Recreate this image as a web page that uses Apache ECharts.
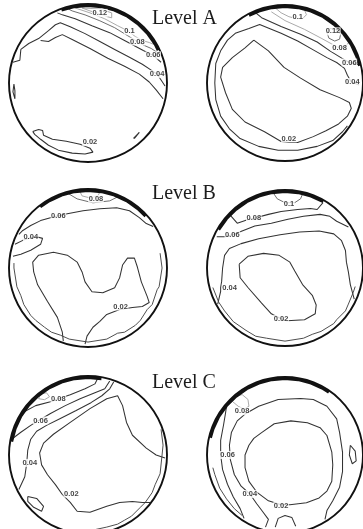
<!DOCTYPE html>
<html>
<head>
<meta charset="utf-8">
<script src="https://cdn.jsdelivr.net/npm/echarts@6/dist/echarts.min.js"></script>
<style>
  html, body { margin: 0; padding: 0; background: #fff; }
  #chart { width: 363px; height: 529px; }
</style>
</head>
<body>
<div id="chart"></div>
<script>
// Level names, one per row of tanks
const levelTitles = ['Level A', 'Level B', 'Level C'];

// Contour polylines of the tank cross-sections.
// Each point is [x, y] in tank units (tank radius = 80), origin on the tank axis, y up.

// ---- Level A, left tank ----
const aLeft_band = [[-26.8,73.8],[-13.6,77.3],[0,78.5],[13.6,77.3],[26.8,73.8],[39.3,68],[50.5,60.1],[60.1,50.5],[68,39.3],[71.1,33.2]];
const aLeft_12 = [[-6,76],[2,73],[12,70],[20,67],[24,66],[24,71],[12,75],[-6,76]];
const aLeft_10 = [[-13,76],[2,71],[17,65],[30,58],[40,53],[48,47],[55,43],[62,41],[67,39]];
const aLeft_08 = [[-20,75],[-16,73],[-3,69],[12,63],[27,56],[40,48],[50,42],[57,38],[64,35],[70,31]];
const aLeft_06 = [[-31,71],[-26,69],[-13,65],[4,58],[22,51],[37,43],[56,33],[66,28],[74,21]];
const aLeft_04 = [[-76,21],[-69,23],[-68,34],[-60,40],[-50,45],[-40,53],[-33,59],[-28,61],[-18,57],[-3,50],[12,42],[27,34],[42,26],[55,19],[64,13],[70,9],[74,3],[78,-3]];
const aLeft_03 = [[-48,43],[-40,42],[-33,46],[-26,49],[-16,44],[2,35],[20,25],[37,17],[52,9],[62,1],[69,-7],[76,-16]];
const aLeft_02 = [[-56,-49],[-50,-47],[-46,-48],[-45,-53],[-36,-57],[-22,-59],[-8,-62],[2,-66],[5,-70],[-3,-72],[-16,-71],[-30,-68],[-40,-63],[-48,-57],[-54,-52],[-56,-49]];
const aLeft_edgeW = [[-75,-1],[-74,-8],[-74,-16],[-75,-18],[-76,-9],[-75,-1]];
const aLeft_edgeS = [[46,-56],[49,-53],[52,-50],[50,-52],[47,-56]];

// ---- Level A, right tank ----
const aRight_band = [[-36.9,69.3],[-26.8,73.8],[-13.6,77.3],[0,78.5],[13.6,77.3],[26.8,73.8],[39.3,68],[50.5,60.1],[60.1,50.5],[68,39.3],[73.8,26.8],[76.5,17.7]];
const aRight_12 = [[43,52],[45,46],[51,43],[56,45],[57,50],[52,55],[46,56],[43,52]];
const aRight_10 = [[-10,77],[-4,72],[4,68],[12,66],[18,66],[22,70],[20,75]];
const aRight_08 = [[-14,73],[0,64],[20,55],[37,46],[48,40],[56,36],[62,38],[66,42]];
const aRight_06 = [[-30,72],[-24,67],[-4,58],[16,50],[33,42],[46,33],[59,25],[66,21],[75,19]];
const aRight_04 = [[76,-2],[68,1],[64,8],[61,15],[53,21],[43,26],[29,34],[13,43],[-4,51],[-16,56],[-26,60],[-37,56],[-51,51],[-59,44],[-66,33],[-71,20],[-72,0],[-71,-17],[-66,-34],[-57,-47],[-46,-57],[-27,-65],[-7,-69],[13,-69],[33,-65],[49,-59],[59,-50],[64,-44]];
const aRight_02 = [[-32,44],[-17,33],[-1,16],[16,5],[36,-7],[56,-15],[66,-20],[68,-26],[64,-34],[55,-42],[42,-49],[29,-55],[13,-61],[4,-61],[-4,-60],[-21,-50],[-41,-40],[-54,-27],[-61,-10],[-66,6],[-64,16],[-54,26],[-41,36],[-32,44]];

// ---- Level B, left tank ----
const bLeft_band = [[-48.3,61.9],[-39.3,68],[-26.8,73.8],[-13.6,77.3],[0,78.5],[13.6,77.3],[26.8,73.8],[39.3,68],[50.5,60.1],[58.3,52.5]];
const bLeft_10 = [[-8,77],[-6,73],[2,71],[10,73],[12,77]];
const bLeft_08 = [[-21,76],[-11,70],[5,66],[22,68],[30,72]];
const bLeft_06 = [[-70,34],[-66,38],[-58,43],[-48,48],[-38,51],[-30,53],[-21,55],[-5,58],[12,60],[29,61],[42,58],[52,51],[59,45],[66,42]];
const bLeft_04 = [[-74,24],[-66,28],[-60,30],[-53,32],[-46,30],[-48,24],[-58,18],[-68,14],[-76,12]];
const bLeft_02 = [[-25,-74],[-26,-65],[-31,-50],[-41,-34],[-51,-17],[-55,-4],[-56,6],[-50,13],[-35,16],[-21,13],[-11,6],[-6,-4],[-3,-14],[4,-24],[15,-25],[27,-20],[32,-10],[35,3],[40,10],[47,10],[50,1],[54,-14],[60,-29],[62,-35],[55,-39],[45,-40],[32,-42],[19,-47],[12,-54],[5,-60],[-1,-69],[-3,-77]];
const bLeft_wall = [[-75,5],[-75,0],[-72,-19],[-68,-28],[-65,-37],[-58,-48],[-53,-53],[-44,-60],[-37,-65],[-28,-68],[-19,-72],[0,-75],[19,-72],[30,-66],[37,-65],[48,-58],[53,-53],[60,-42],[65,-37],[70,-22],[72,-19],[75,0],[73,15]];

// ---- Level B, right tank ----
const bRight_band = [[-68,39.3],[-60.1,50.5],[-50.5,60.1],[-39.3,68],[-26.8,73.8],[-13.6,77.3],[0,78.5],[13.6,77.3],[26.8,73.8],[39.3,68]];
const bRight_10 = [[-12,77],[-8,71],[0,67],[10,67],[16,71],[18,76]];
const bRight_08 = [[-56,54],[-49,46],[-37,50],[-32,51],[-17,55],[-4,58],[13,60],[26,61],[33,60],[39,67]];
const bRight_06 = [[-70,32],[-61,32],[-54,34],[-44,38],[-31,43],[-14,46],[3,50],[19,53],[36,55],[46,53],[53,48],[65,42]];
const bRight_04 = [[-69,-37],[-66,-24],[-66,-20],[-65,-14],[-64,0],[-62,13],[-57,20],[-45,25],[-27,30],[-5,34],[15,37],[35,38],[50,35],[58,28],[62,18],[63,6],[65,-4],[67,-17],[71,-32]];
const bRight_02 = [[-47,4],[-38,12],[-22,15],[-6,13],[5,6],[10,-3],[18,-17],[28,-28],[32,-38],[31,-47],[20,-53],[2,-54],[-4,-52],[-14,-47],[-24,-36],[-38,-20],[-46,-10],[-47,4]];
const bRight_wall = [[-74,-20],[-68,-35],[-62,-44],[-53,-55],[-40,-64],[-30,-70],[-19,-72],[0,-75],[19,-72],[28,-68],[37,-65],[50,-57],[53,-53],[62,-44],[65,-37],[70,-25],[72,-19]];

// ---- Level C, left tank ----
const cLeft_band = [[-77.3,13.6],[-73.8,26.8],[-68,39.3],[-60.1,50.5],[-50.5,60.1],[-39.3,68],[-26.8,73.8],[-13.6,77.3],[0,78.5],[13.6,77.3]];
const cLeft_10 = [[-50,57],[-44,56],[-39,59],[-42,63],[-48,62],[-50,57]];
const cLeft_08 = [[-66,43],[-53,50],[-38,54],[-30,57],[-18,61],[-3,67],[7,72],[10,78]];
const cLeft_06 = [[-76,17],[-68,23],[-58,30],[-50,35],[-38,42],[-23,50],[-8,57],[7,63],[17,67],[22,75]];
const cLeft_04 = [[-70,-35],[-64,-22],[-62,-8],[-61,5],[-58,16],[-52,24],[-42,30],[-28,37],[-12,45],[3,53],[14,60],[22,67],[26,74]];
const cLeft_02 = [[78,-3],[69,0],[59,7],[45,20],[39,33],[35,50],[30,60],[19,57],[2,47],[-18,33],[-35,21],[-45,12],[-49,2],[-47,-10],[-41,-20],[-33,-30],[-26,-40],[-18,-48],[-11,-57],[2,-58],[19,-52],[32,-48],[45,-47],[55,-48],[63,-48]];
const cLeft_pocket = [[-61,-42],[-52,-44],[-45,-52],[-47,-57],[-55,-53],[-61,-47],[-61,-42]];
const cLeft_wall = [[74,26],[76,10],[75,0],[73,-19],[68,-30],[65,-38],[58,-48],[53,-53],[44,-62],[37,-66],[30,-70],[19,-73],[5,-76]];

// ---- Level C, right tank ----
const cRight_band = [[-76.5,17.7],[-73.8,26.8],[-68,39.3],[-60.1,50.5],[-50.5,60.1],[-39.3,68],[-26.8,73.8],[-13.6,77.3],[0,78.5],[13.6,77.3],[26.8,73.8],[39.3,68],[45,64.3]];
const cRight_08 = [[-54,55],[-48,50],[-42,47],[-37,50],[-38,57],[-44,62],[-50,60],[-54,55]];
const cRight_06 = [[-60,50],[-61,43],[-63,31],[-66,15],[-66,0],[-64,-15],[-59,-30],[-53,-43],[-46,-55],[-42,-65]];
const cRight_04 = [[-20,-74],[-17,-66],[-23,-58],[-29,-50],[-36,-40],[-45,-32],[-52,-20],[-56,-5],[-57,10],[-55,23],[-49,35],[-41,42],[-27,50],[-7,57],[16,58],[29,57],[43,50],[53,37],[56,23],[59,3],[59,-17],[56,-33],[49,-47],[43,-57],[41,-66]];
const cRight_02 = [[-24,23],[-11,32],[6,35],[23,33],[36,28],[43,20],[48,3],[49,-10],[48,-27],[43,-37],[35,-44],[22,-49],[5,-51],[-4,-51],[-17,-47],[-29,-38],[-37,-27],[-41,-13],[-41,0],[-37,10],[-32,17],[-24,23]];
const cRight_pocketE = [[67,10],[72,4],[73,-6],[69,-9],[66,0],[67,10]];
const cRight_pocketS = [[-10,-74],[-7,-65],[0,-62],[7,-64],[11,-73]];
const cRight_wall = [[-74,-13],[-72,-20],[-67,-34],[-60,-45],[-52,-55],[-44,-62]];

// Line looks
const tones = {
  band:  { color: '#121212', width: 3 },
  dark:  { color: '#333333', width: 1.05 },
  mid:   { color: '#666666', width: 0.95 },
  light: { color: '#a0a0a0', width: 0.9 },
  wall:  { color: '#444444', width: 0.95 }
};

// Tanks: layout of each cross-section and the contours it holds (level text + labelled vertex)
const tanks = [
  { center: [88, 83], radius: 79, contours: [
    { pts: aLeft_band, tone: 'band' },
    { pts: aLeft_12, tone: 'light', level: '0.12', at: 2, shift: [0, -1] },
    { pts: aLeft_10, tone: 'light', level: '0.1', at: 4, shift: [2, 0] },
    { pts: aLeft_08, tone: 'mid', level: '0.08', at: 6 },
    { pts: aLeft_06, tone: 'dark', level: '0.06', at: 7 },
    { pts: aLeft_04, tone: 'dark', level: '0.04', at: 15 },
    { pts: aLeft_03, tone: 'dark' },
    { pts: aLeft_02, tone: 'dark', level: '0.02', at: 7, shift: [0, -6] },
    { pts: aLeft_edgeW, tone: 'dark' },
    { pts: aLeft_edgeS, tone: 'dark' }
  ]},
  { center: [285, 83], radius: 78, contours: [
    { pts: aRight_band, tone: 'band' },
    { pts: aRight_12, tone: 'mid', level: '0.12', at: 0, shift: [6, -1] },
    { pts: aRight_10, tone: 'light', level: '0.1', at: 3, shift: [1, -2] },
    { pts: aRight_08, tone: 'light', level: '0.08', at: 5 },
    { pts: aRight_06, tone: 'dark', level: '0.06', at: 7 },
    { pts: aRight_04, tone: 'dark', level: '0.04', at: 1, shift: [1, 0] },
    { pts: aRight_02, tone: 'dark', level: '0.02', at: 13, shift: [0, -4] }
  ]},
  { center: [88, 268], radius: 79, contours: [
    { pts: bLeft_band, tone: 'band' },
    { pts: bLeft_10, tone: 'light' },
    { pts: bLeft_08, tone: 'mid', level: '0.08', at: 2, shift: [3, -4] },
    { pts: bLeft_06, tone: 'dark', level: '0.06', at: 5 },
    { pts: bLeft_04, tone: 'dark', level: '0.04', at: 2, shift: [2, -1] },
    { pts: bLeft_02, tone: 'dark', level: '0.02', at: 26, shift: [1, -3] },
    { pts: bLeft_wall, tone: 'wall' }
  ]},
  { center: [285, 268], radius: 78, contours: [
    { pts: bRight_band, tone: 'band' },
    { pts: bRight_10, tone: 'mid', level: '0.1', at: 2, shift: [4, 1] },
    { pts: bRight_08, tone: 'dark', level: '0.08', at: 3 },
    { pts: bRight_06, tone: 'dark', level: '0.06', at: 2 },
    { pts: bRight_04, tone: 'dark', level: '0.04', at: 2, shift: [9, 0] },
    { pts: bRight_02, tone: 'dark', level: '0.02', at: 12 },
    { pts: bRight_wall, tone: 'wall' }
  ]},
  { center: [88, 455], radius: 79, contours: [
    { pts: cLeft_band, tone: 'band' },
    { pts: cLeft_10, tone: 'light' },
    { pts: cLeft_08, tone: 'dark', level: '0.08', at: 3 },
    { pts: cLeft_06, tone: 'dark', level: '0.06', at: 3, shift: [2, 0] },
    { pts: cLeft_04, tone: 'dark', level: '0.04', at: 2, shift: [3, 0] },
    { pts: cLeft_02, tone: 'dark', level: '0.02', at: 16, shift: [9, -1] },
    { pts: cLeft_pocket, tone: 'dark' },
    { pts: cLeft_wall, tone: 'wall' }
  ]},
  { center: [285, 455], radius: 78, contours: [
    { pts: cRight_band, tone: 'band' },
    { pts: cRight_08, tone: 'light', level: '0.08', at: 2, shift: [-2, 2] },
    { pts: cRight_06, tone: 'dark', level: '0.06', at: 4, shift: [7, 0] },
    { pts: cRight_04, tone: 'dark', level: '0.04', at: 4 },
    { pts: cRight_02, tone: 'dark', level: '0.02', at: 13, shift: [0, 1] },
    { pts: cRight_pocketE, tone: 'dark' },
    { pts: cRight_pocketS, tone: 'dark' },
    { pts: cRight_wall, tone: 'wall' }
  ]}
];

// [x, y] -> [radius, angle in degrees] for the polar systems
function toPolar(p) {
  const r = Math.hypot(p[0], p[1]);
  let a = Math.atan2(p[1], p[0]) * 180 / Math.PI;
  if (a < 0) a += 360;
  return [r, a];
}

const series = [];
tanks.forEach((tank, i) => {
  const labelPoints = [];
  tank.contours.forEach(c => {
    const data = c.pts.map(toPolar);
    series.push({
      type: 'line', coordinateSystem: 'polar', polarIndex: i,
      data, symbol: 'none', silent: true, animation: false, clip: false,
      lineStyle: tones[c.tone], z: c.tone === 'band' ? 3 : 2
    });
    if (c.level) {
      labelPoints.push({ name: c.level, value: data[c.at], label: { offset: c.shift || [0, 0] } });
    }
  });
  series.push({
    type: 'scatter', coordinateSystem: 'polar', polarIndex: i,
    symbol: 'circle', symbolSize: 1, itemStyle: { color: 'rgba(0,0,0,0)' },
    silent: true, animation: false, z: 6,
    label: {
      show: true, position: 'inside', formatter: '{b}',
      fontFamily: 'Liberation Sans', fontSize: 7.5, fontWeight: 'bold', color: '#111',
      backgroundColor: '#fff', padding: [0, 0.5]
    },
    data: labelPoints
  });
});

const chart = echarts.init(document.getElementById('chart'), null, { renderer: 'canvas' });
chart.setOption({
  backgroundColor: '#fff',
  animation: false,
  title: levelTitles.map((t, k) => ({
    text: t, left: 152, top: [9, 184, 373][k], padding: 0,
    textStyle: { fontFamily: 'Liberation Serif', fontSize: 20, fontWeight: 'normal', color: '#1c1c1c' }
  })),
  polar: tanks.map(t => ({ center: t.center, radius: t.radius })),
  angleAxis: tanks.map((t, i) => ({
    polarIndex: i, type: 'value', min: 0, max: 360, startAngle: 0, clockwise: false,
    axisLine: { show: true, lineStyle: { color: '#111', width: 1.9 } },
    axisTick: { show: false }, axisLabel: { show: false }, splitLine: { show: false }
  })),
  radiusAxis: tanks.map((t, i) => ({
    polarIndex: i, type: 'value', min: 0, max: 80,
    axisLine: { show: false }, axisTick: { show: false }, axisLabel: { show: false }, splitLine: { show: false }
  })),
  series
});
</script>
</body>
</html>
